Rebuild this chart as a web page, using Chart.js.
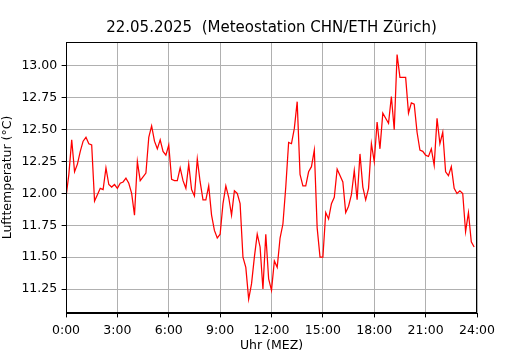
<!DOCTYPE html>
<html>
<head>
<meta charset="utf-8">
<script src="https://cdn.jsdelivr.net/npm/chart.js@4"></script>
<style>
  body { margin: 0; background: #fff; }
  canvas { display: block; }
</style>
</head>
<body>
<canvas id="tempChart" width="530" height="350"></canvas>
<script>
// Lufttemperatur, 10-Minuten-Werte ab 0:00
const temps = [
    11.97, 12.15, 12.42, 12.17, 12.23, 12.33, 12.41, 12.44, 12.39, 12.38, 11.94, 11.99,
    12.04, 12.03, 12.20, 12.07, 12.05, 12.07, 12.04, 12.08, 12.09, 12.12, 12.08, 12.00,
    11.83, 12.25, 12.10, 12.13, 12.16, 12.44, 12.53, 12.41, 12.35, 12.42, 12.33, 12.30,
    12.38, 12.11, 12.10, 12.10, 12.20, 12.10, 12.04, 12.23, 12.03, 11.98, 12.27, 12.09,
    11.95, 11.95, 12.06, 11.83, 11.71, 11.65, 11.68, 11.92, 12.06, 11.97, 11.83, 12.02,
    12.00, 11.92, 11.50, 11.42, 11.17, 11.29, 11.50, 11.68, 11.58, 11.25, 11.68, 11.33,
    11.24, 11.47, 11.42, 11.65, 11.76, 12.05, 12.40, 12.39, 12.51, 12.72, 12.15, 12.06,
    12.06, 12.17, 12.21, 12.34, 11.73, 11.50, 11.50, 11.85, 11.80, 11.92, 11.97, 12.19,
    12.14, 12.09, 11.85, 11.90, 11.99, 12.18, 11.95, 12.31, 12.05, 11.95, 12.04, 12.39,
    12.25, 12.56, 12.35, 12.63, 12.59, 12.55, 12.76, 12.50, 13.09, 12.91, 12.91, 12.91,
    12.63, 12.71, 12.70, 12.48, 12.34, 12.33, 12.30, 12.29, 12.35, 12.22, 12.59, 12.39,
    12.48, 12.17, 12.14, 12.21, 12.04, 12.00, 12.02, 12.00, 11.70, 11.85, 11.62, 11.58
];
const yTicks = [11.25, 11.50, 11.75, 12.00, 12.25, 12.50, 12.75, 13.00];
const xTicks = [0, 3, 6, 9, 12, 15, 18, 21, 24];

const titleText = '22.05.2025  (Meteostation CHN/ETH Zürich)';
const font = '"DejaVu Sans", sans-serif';

// Messzeitpunkte in Stunden (alle 10 Minuten)
const points = temps.map((t, i) => ({ x: i / 6, y: t }));

const framePlugin = {
    id: 'frame',
    afterDraw(chart) {
        const { ctx, chartArea: a } = chart;
        ctx.save();
        ctx.strokeStyle = '#000';
        ctx.lineWidth = 1;
        ctx.strokeRect(a.left + 0.5, a.top + 0.5, a.right - a.left - 1, a.bottom - a.top - 1);
        ctx.fillStyle = '#000';
        ctx.font = '15px ' + font;
        ctx.textAlign = 'center';
        ctx.textBaseline = 'middle';
        ctx.fillText(titleText, (a.left + a.right) / 2, 28);
        ctx.restore();
    }
};

const ctx = document.getElementById('tempChart').getContext('2d');

new Chart(ctx, {
    type: 'line',
    data: {
        datasets: [{
            data: points,
            borderColor: '#ff0000',
            borderWidth: 1.25,
            pointRadius: 0,
            tension: 0,
            fill: false
        }]
    },
    options: {
        responsive: false,
        animation: false,
        devicePixelRatio: 1,
        layout: { padding: { top: 42, right: 53, left: 0, bottom: 0 } },
        plugins: {
            legend: { display: false },
            tooltip: { enabled: false }
        },
        scales: {
            x: {
                type: 'linear',
                min: 0,
                max: 24,
                afterBuildTicks: scale => { scale.ticks = xTicks.map(v => ({ value: v })); },
                afterFit: scale => { scale.height = 37; },
                ticks: {
                    color: '#000',
                    font: { family: font, size: 12.5 },
                    padding: 6,
                    maxRotation: 0,
                    callback: v => v + ':00'
                },
                grid: { color: '#b0b0b0', lineWidth: 1, tickLength: 4.4, tickColor: '#000' },
                border: { color: '#000', width: 1 },
                title: {
                    display: true,
                    text: 'Uhr (MEZ)',
                    color: '#000',
                    font: { family: font, size: 12.5, lineHeight: 0.64 },
                    padding: 0
                }
            },
            y: {
                min: 11.062,
                max: 13.188,
                afterBuildTicks: scale => { scale.ticks = yTicks.map(v => ({ value: v })); },
                afterFit: scale => { scale.width = 66; },
                ticks: {
                    color: '#000',
                    font: { family: font, size: 12.5 },
                    padding: 4.4,
                    callback: v => v.toFixed(2)
                },
                grid: { color: '#b0b0b0', lineWidth: 1, tickLength: 4.4, tickColor: '#000' },
                border: { color: '#000', width: 1 },
                title: {
                    display: true,
                    text: 'Lufttemperatur (°C)',
                    color: '#000',
                    font: { family: font, size: 12.5 },
                    padding: 0
                }
            }
        }
    },
    plugins: [framePlugin]
});
</script>
</body>
</html>
